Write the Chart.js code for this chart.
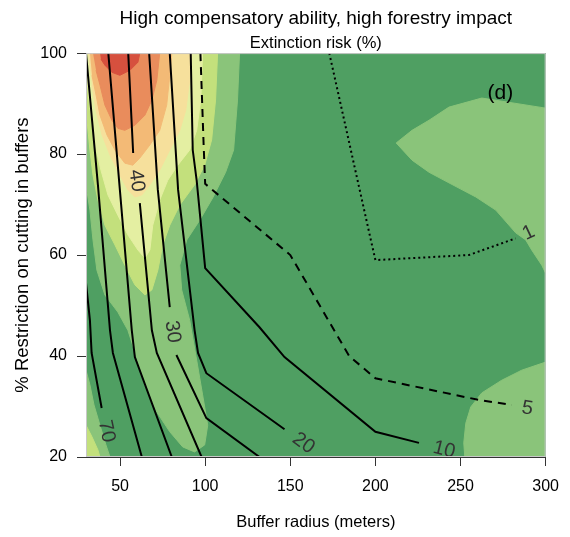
<!DOCTYPE html>
<html>
<head>
<meta charset="utf-8">
<script src="https://cdn.jsdelivr.net/npm/chart.js@4.4.0/dist/chart.umd.min.js"></script>
<style>
  html, body { margin: 0; padding: 0; background: #fff; }
</style>
</head>
<body>
<canvas id="chart" width="570" height="537"></canvas>
<script>
// axes
const xRange = [30, 300]
const yRange = [20, 100]
const xTicks = [50, 100, 150, 200, 250, 300]
const yTicks = [20, 40, 60, 80, 100]

// filled risk bands (x = buffer radius, y = % restriction)
const greenLeft = [[30,100],[120.2,100],[119,90.7],[116.7,80.8],[112,76.4],[104.4,71.3],[96.8,66.9],[89.2,63],[85.1,58],[86.2,53.1],[90.9,47.1],[95,39.2],[98.5,32.3],[101.5,26.3],[99.7,22.4],[93.8,21],[86.8,22],[79.2,25],[71.6,28.9],[64.6,34.3],[59.3,40.2],[54.6,45.1],[48.7,48.7],[41.1,52.1],[36.4,57],[34.1,63],[32.3,68.9],[30,73.9]]
const greenTopRight = [[300,89.1],[262.5,91.1],[243.2,89.3],[231.5,86.7],[221.5,84.7],[212.2,82.2],[221.5,78.8],[231.5,76.4],[243.2,74.3],[259,71.5],[270.7,68.9],[282.4,64.4],[288.3,63],[291.8,61],[297.7,58],[300,56.4]]
const greenBottomRight = [[300,38.8],[286,37.2],[274.2,35.2],[262.5,32.7],[256,29.9],[253.1,26.7],[251.9,22.8],[252.5,20],[300,20]]
const greenCorner = [[30,37.2],[32.3,34.3],[34.7,30.3],[38.2,26.3],[41.7,22.4],[44.1,20],[30,20]]
const yellowGreenLeft = [[30,100],[107.3,100],[106.1,90.7],[103.8,82.8],[99.7,77.8],[93.8,73.9],[85.1,69.9],[79.2,65.9],[75.1,62],[72.2,57],[68.7,53.1],[64.6,52.1],[58.7,54.1],[52.8,58],[47,62],[41.1,65.9],[37,70.9],[34.1,75.8],[32.3,80.8],[30.6,86.7],[30,88.7]]
const yellowGreenCorner = [[30,26.3],[33.5,24],[37,21.4],[38.2,20],[30,20]]
const paleLeft = [[30,100],[98.5,100],[97.4,90.7],[95,84.7],[90.9,80.8],[83.9,77.8],[78,74.8],[73.3,70.9],[69.2,65.9],[67.5,61],[64.6,59.4],[60.5,61],[54.6,64],[48.7,67.9],[42.9,71.9],[38.8,76.8],[35.3,81.8],[32.9,87.7],[31.2,92.7],[30,96.6]]
const creamLeft = [[31.2,100],[92.1,100],[90.9,94.6],[88.6,88.7],[85.1,84.7],[79.2,80.8],[73.3,76.8],[67.5,73.9],[62.8,71.9],[58.7,71.5],[54.6,72.9],[49.9,75.8],[44.1,79.8],[39.4,83.8],[35.9,88.7],[33.5,93.7]]
const lightOrange = [[32.3,100],[80.4,100],[79.2,95.6],[77.4,89.7],[73.3,84.7],[67.5,81.8],[61.6,79.2],[57.5,77.8],[52.8,78.2],[47,80.8],[42.3,83.8],[38.2,87.7],[35.9,91.7],[33.5,95.6]]
const orange = [[34.1,100],[73.3,100],[71.6,94.6],[68.7,90.7],[64.6,87.7],[58.7,85.7],[52.8,84.7],[48.7,85.1],[45.2,86.7],[41.1,89.7],[38.2,93.7],[35.9,96.6]]
const red = [[38.2,100],[61.6,100],[60.5,98.2],[55.8,96.6],[49.9,95.6],[45.2,96.2],[41.1,97.6],[38.8,98.8]]

// extinction risk contours (null = gap for a label)
const risk70 = [[30,54.5],[32.3,47.1],[33.3,40.6],[39.2,29.7]]
const risk60 = [[30,100],[37,73.9],[44.1,45.1],[45.8,40.6],[62.8,20]]
const risk50 = [[43.1,100],[49.9,72.9],[56.9,45.1],[58.7,39.8],[80.4,20]]
const risk40 = [[54.8,100],[57.7,80.2],null,[61.6,70.3],[68.7,45.1],[71.6,40.6],[97.9,20]]
const risk30 = [[67.1,100],[72.2,72.9],[79.2,49.7],null,[83.1,40.2],[100.7,27.7],[131.9,20]]
const risk20 = [[79.2,100],[84.1,72.9],[93.8,45.1],[95.8,40.6],[100.7,36.6],[146.6,25.5]]
const risk10 = [[91.5,100],[92.7,80.8],[95,74.8],[100,57.4],[131.9,45.7],[146.6,39.8],[200,25],[225.6,22.8]]
const risk5 = [[97.2,100],[99.1,81.8],[100,74.1],[150,60],[184.6,40],[200,35.6],[260.8,31.3],[280.1,30.3]]
const risk1 = [[172.9,100],[197.3,63],[200,59],[254.9,60],[282.3,63.3]]

// contour labels
const labelText = ['70', '40', '30', '20', '10', '5', '1']
const labelX = [42, 59.7, 80.8, 157.7, 240.3, 289.2, 290]
const labelY = [25.1, 74.7, 44.8, 22.7, 21.4, 29.6, 64.4]
const labelAngle = [78, 82, 82, 36, 14, 9, -25]

const toPoints = (arr) => arr.map((p) => (p ? { x: p[0], y: p[1] } : { x: null, y: null }))

const bandColors = {
  dark: '#4f9f62',
  mid: '#8ac47a',
  yg: '#c3e07c',
  pale: '#e4efa2',
  cream: '#f6e09c',
  lorange: '#f3ba76',
  orange: '#e98c5c',
  red: '#d6503e',
}

function band(data, color, order) {
  return {
    data: toPoints(data),
    showLine: true,
    fill: 'shape',
    backgroundColor: color,
    borderColor: color,
    borderWidth: 1,
    pointRadius: 0,
    tension: 0,
    order: order,
  }
}

function contour(data, dash) {
  return {
    data: toPoints(data),
    showLine: true,
    fill: false,
    borderColor: '#000',
    borderWidth: 2,
    borderDash: dash,
    pointRadius: 0,
    tension: 0,
    spanGaps: false,
    order: 0,
  }
}

const background = [[xRange[0], yRange[0]], [xRange[1], yRange[0]], [xRange[1], yRange[1]], [xRange[0], yRange[1]]]

const datasets = [
  band(background, bandColors.dark, 30),
  band(greenLeft, bandColors.mid, 20),
  band(greenTopRight, bandColors.mid, 20),
  band(greenBottomRight, bandColors.mid, 20),
  band(greenCorner, bandColors.mid, 20),
  band(yellowGreenLeft, bandColors.yg, 19),
  band(yellowGreenCorner, bandColors.yg, 19),
  band(paleLeft, bandColors.pale, 18),
  band(creamLeft, bandColors.cream, 17),
  band(lightOrange, bandColors.lorange, 16),
  band(orange, bandColors.orange, 15),
  band(red, bandColors.red, 14),
  contour(risk70, []),
  contour(risk60, []),
  contour(risk50, []),
  contour(risk40, []),
  contour(risk30, []),
  contour(risk20, []),
  contour(risk10, []),
  contour(risk5, [8, 6]),
  contour(risk1, [2, 3]),
]

const labelsPlugin = {
  id: 'contourLabels',
  afterDatasetsDraw(chart) {
    const { ctx, chartArea, scales } = chart
    ctx.save()
    ctx.beginPath()
    ctx.rect(chartArea.left, chartArea.top, chartArea.right - chartArea.left, chartArea.bottom - chartArea.top)
    ctx.clip()
    ctx.fillStyle = '#333'
    ctx.textAlign = 'center'
    ctx.textBaseline = 'middle'
    ctx.font = '20px "Liberation Sans", Arial, sans-serif'
    labelText.forEach((t, i) => {
      ctx.save()
      ctx.translate(scales.x.getPixelForValue(labelX[i]), scales.y.getPixelForValue(labelY[i]))
      ctx.rotate((labelAngle[i] * Math.PI) / 180)
      ctx.fillText(t, 0, 0)
      ctx.restore()
    })
    // panel letter
    ctx.fillStyle = '#000'
    ctx.font = '21px "Liberation Sans", Arial, sans-serif'
    ctx.fillText('(d)', scales.x.getPixelForValue(273.4), scales.y.getPixelForValue(92.1))
    ctx.restore()
    // light frame
    ctx.save()
    ctx.strokeStyle = '#c8c8c8'
    ctx.lineWidth = 1
    ctx.strokeRect(chartArea.left + 0.5, chartArea.top + 0.5, chartArea.right - chartArea.left - 1, chartArea.bottom - chartArea.top - 1)
    ctx.restore()
  },
}

Chart.defaults.font.family = '"Liberation Sans", Arial, Helvetica, sans-serif'
Chart.defaults.color = '#000'

new Chart(document.getElementById('chart'), {
  type: 'scatter',
  data: { datasets },
  options: {
    responsive: false,
    animation: false,
    events: [],
    layout: { padding: { left: 0, right: 23, top: 0, bottom: 0 } },
    plugins: {
      legend: { display: false },
      tooltip: { enabled: false },
      title: {
        display: true,
        text: 'High compensatory ability, high forestry impact',
        fullSize: false,
        color: '#000',
        font: { size: 19, weight: 'normal' },
        padding: { top: 7, bottom: 2.5 },
      },
      subtitle: {
        display: true,
        text: 'Extinction risk (%)',
        fullSize: false,
        color: '#000',
        font: { size: 16.5 },
        padding: { top: 1, bottom: 0 },
      },
    },
    scales: {
      x: {
        type: 'linear',
        min: xRange[0],
        max: xRange[1],
        z: 1,
        afterBuildTicks: (scale) => {
          scale.ticks = xTicks.map((v) => ({ value: v }))
        },
        afterFit: (scale) => {
          scale.height = 80
        },
        grid: { drawOnChartArea: false, drawTicks: true, tickLength: 9, color: '#333' },
        border: { display: true, color: '#333', width: 1 },
        ticks: { font: { size: 16 }, padding: 11, maxRotation: 0, autoSkip: false },
        title: {
          display: true,
          text: 'Buffer radius (meters)',
          font: { size: 16.5 },
          padding: { top: 4.4, bottom: 4.4 },
        },
      },
      y: {
        type: 'linear',
        min: yRange[0],
        max: yRange[1],
        z: 1,
        afterBuildTicks: (scale) => {
          scale.ticks = yTicks.map((v) => ({ value: v }))
        },
        afterFit: (scale) => {
          scale.width = 86
        },
        grid: { drawOnChartArea: false, drawTicks: true, tickLength: 9, color: '#333' },
        border: { display: true, color: '#333', width: 1 },
        ticks: { font: { size: 16 }, padding: 10, autoSkip: false },
        title: {
          display: true,
          text: '% Restriction on cutting in buffers',
          font: { size: 18.5 },
          padding: { top: 12, bottom: 12 },
        },
      },
    },
  },
  plugins: [labelsPlugin],
})
</script>
</body>
</html>
